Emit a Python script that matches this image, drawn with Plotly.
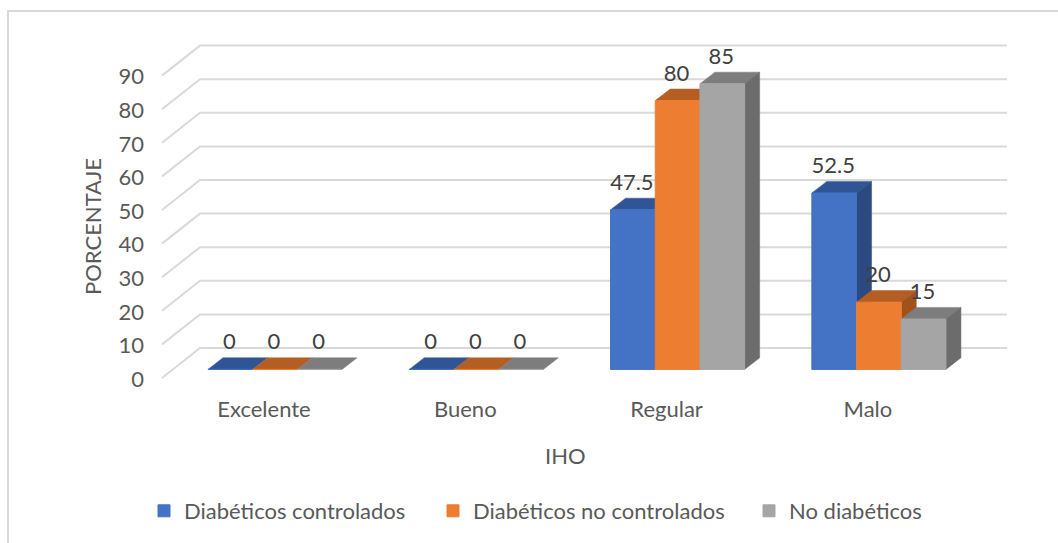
import plotly.graph_objects as go

categories = ["Excelente", "Bueno", "Regular", "Malo"]
series_names = ["Diabéticos controlados", "Diabéticos no controlados", "No diabéticos"]
controlados = [0, 0, 47.5, 52.5]
no_controlados = [0, 0, 80, 20]
no_diabeticos = [0, 0, 85, 15]
tick_values = [0, 10, 20, 30, 40, 50, 60, 70, 80, 90]

series_values = [controlados, no_controlados, no_diabeticos]
front_colors = ["#4472C4", "#ED7D31", "#A5A5A5"]
top_colors = ["#305596", "#B45E24", "#7D7D7D"]
side_colors = ["#2B4A80", "#A0521D", "#6C6C6C"]

W, H = 1058, 543
PL, PR, PT, PB = 145, 1025, 20, 394   # plot area in page pixels
X_PITCH = 201.3                        # pixels per category
Y_UNIT = 3.36                          # pixels per percent
X0_PX, Y0_PX = 275.0, 369.4            # where category 0, value 0 falls

ux = lambda px: px / X_PITCH
uy = lambda px: px / Y_UNIT
bar_w = ux(44.7)
depth_x, depth_y = ux(15), uy(11.6)

fig = go.Figure()

# walls: gridlines
front_y, back_y = uy(Y0_PX - 378), uy(Y0_PX - 348)
for v in tick_values:
    fig.add_trace(go.Scatter(
        x=[ux(162 - X0_PX), ux(200 - X0_PX), ux(1007 - X0_PX)],
        y=[v + front_y, v + back_y, v + back_y],
        mode="lines", line=dict(color="#D9D9D9", width=2),
        hoverinfo="skip", showlegend=False, zorder=0, cliponaxis=False))

idx = list(range(len(categories)))
for s, (name, vals) in enumerate(zip(series_names, series_values)):
    z = 1 + 3 * s
    for i, v in zip(idx, vals):
        left = i + (s - 1.5) * bar_w
        right = left + bar_w
        # top face
        fig.add_trace(go.Scatter(
            x=[left, left + depth_x, right + depth_x, right, left],
            y=[v, v + depth_y, v + depth_y, v, v],
            mode="lines", fill="toself", fillcolor=top_colors[s],
            line=dict(color=top_colors[s], width=0.5),
            hoverinfo="skip", showlegend=False, zorder=z))
        # side face
        if v > 0:
            fig.add_trace(go.Scatter(
                x=[right, right + depth_x, right + depth_x, right, right],
                y=[0, depth_y, v + depth_y, v, 0],
                mode="lines", fill="toself", fillcolor=side_colors[s],
                line=dict(color=side_colors[s], width=0.5),
                hoverinfo="skip", showlegend=False, zorder=z))
    # front face
    fig.add_trace(go.Bar(
        x=idx, y=vals, name=name,
        marker=dict(color=front_colors[s], line=dict(width=1, color=front_colors[s])),
        zorder=z + 1, legend=["legend", "legend2", "legend3"][s], showlegend=True))

font = dict(family="Lato", size=22, color="#595959")

# data labels
for s, vals in enumerate(series_values):
    fig.add_trace(go.Scatter(
        x=[i + (s - 1) * bar_w - ux(1) for i in idx],
        y=[v + uy(25.5) for v in vals],
        text=[str(v) for v in vals],
        mode="text", textposition="middle center",
        textfont=dict(family="Lato", size=22, color="#404040"),
        hoverinfo="skip", showlegend=False, zorder=20, cliponaxis=False))

px2paper_x = lambda px: (px - PL) / (PR - PL)
px2paper_y = lambda py: (PB - py) / (PB - PT)


def legend_at(px):
    return dict(orientation="h", xanchor="left", yanchor="middle", x=px2paper_x(px), y=px2paper_y(511),
                font=font, bgcolor="rgba(0,0,0,0)", itemwidth=30)


border = dict(type="path", xref="paper", yref="paper",
              path=f"M {px2paper_x(8)} {px2paper_y(543)} L {px2paper_x(8)} {px2paper_y(11)} "
                   f"L {px2paper_x(1058)} {px2paper_y(11)}",
              line=dict(color="#D9D9D9", width=2))

fig.update_layout(
    width=W, height=H,
    margin=dict(l=PL, r=W - PR, t=PT, b=H - PB, autoexpand=False),
    autosize=False,
    paper_bgcolor="white", plot_bgcolor="rgba(0,0,0,0)",
    barmode="group", bargap=1 - 3 * bar_w, bargroupgap=0,
    font=font,
    shapes=[border],
    xaxis=dict(range=[ux(PL - X0_PX), ux(PR - X0_PX)],
               tickmode="array", tickvals=[i - ux(11) for i in idx], ticktext=categories,
               showgrid=False, zeroline=False, showline=False, ticks="", tickfont=font),
    yaxis=dict(range=[uy(Y0_PX - PB), uy(Y0_PX - PT)],
               tickmode="array", tickvals=[v + uy(Y0_PX - 379) for v in tick_values],
               ticktext=[str(v) for v in tick_values],
               showgrid=False, zeroline=False, showline=False, ticks="", tickfont=font),
    legend=legend_at(144), legend2=legend_at(433), legend3=legend_at(749),
    annotations=[
        dict(text="PORCENTAJE", xref="paper", yref="paper", x=px2paper_x(92), y=px2paper_y(227),
             xanchor="center", yanchor="middle", textangle=-90, showarrow=False, font=font),
        dict(text="IHO", xref="paper", yref="paper", x=px2paper_x(565), y=px2paper_y(455),
             xanchor="center", yanchor="middle", showarrow=False, font=font),
    ],
)

fig.write_html("out.html", config={"displayModeBar": False},
               post_script="document.body.style.margin='0';")
